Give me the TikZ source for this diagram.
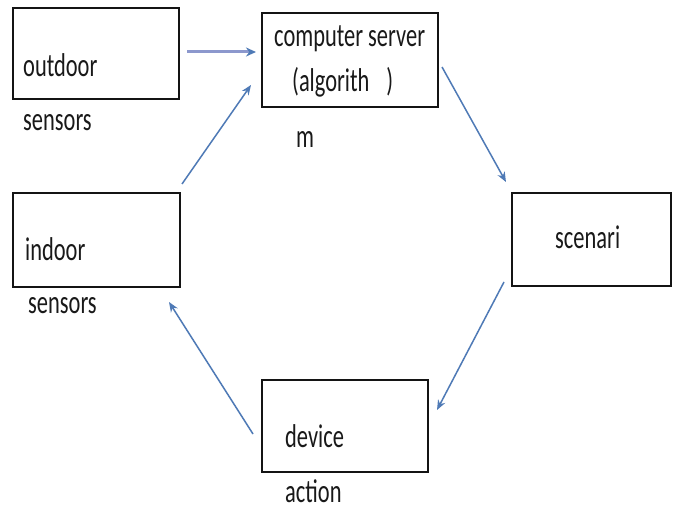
\documentclass[tikz,border=0pt]{standalone}
\usepackage{fontspec}
\setmainfont{Carlito}[FakeStretch=0.68]
\usetikzlibrary{arrows.meta}
\definecolor{arrblue}{RGB}{79,122,182}
\definecolor{arrlight}{RGB}{140,152,205}
\definecolor{txtc}{RGB}{25,25,25}
\definecolor{boxc}{RGB}{20,20,20}
\tikzset{
  boxnode/.style={draw=boxc, line width=1.8pt, rectangle, inner sep=0pt},
  lbl/.style={anchor=base west, inner sep=0pt, text=txtc, font=\fontsize{33}{38}\selectfont},
  conn/.style={draw=arrblue, line width=1.5pt, -{Stealth[length=10pt,width=8pt]}},
  connthick/.style={draw=arrlight, line width=3pt, -{Stealth[length=10pt,width=9pt,color=arrblue]}}
}
\begin{document}
\begin{tikzpicture}[x=1pt,y=-1pt]
\useasboundingbox[fill=white] (0,0) rectangle (673,511);
% boxes
\node[boxnode, minimum width=166pt, minimum height=91pt] (outdoor) at (96,53.5) {};
\node[boxnode, minimum width=176pt, minimum height=94pt] (server) at (350,60) {};
\node[boxnode, minimum width=159pt, minimum height=93pt] (scenari) at (591.5,239.5) {};
\node[boxnode, minimum width=167pt, minimum height=94pt] (indoor) at (96.5,240) {};
\node[boxnode, minimum width=166pt, minimum height=92pt] (device) at (345,426) {};
% labels
\node[lbl] (t1) at (23,77) {outdoor};
\node[lbl] (t2) at (23,131) {sensors};
\node[lbl] (t3) at (274,47) {computer server};
\node[lbl] (t4) at (292,92) {(algorith\hspace*{17pt})};
\node[lbl] (t5) at (296,148) {m};
\node[lbl] (t6) at (555,248) {scenari};
\node[lbl] (t7) at (25,260) {indoor};
\node[lbl] (t8) at (28,313) {sensors};
\node[lbl] (t9) at (285,447) {device};
\node[lbl] (t10) at (285,502) {action};
% connector ends
\coordinate (a1s) at (187,52);
\coordinate (a1e) at (256,52);
\coordinate (a2s) at (182,184);
\coordinate (a2e) at (251,85);
\coordinate (a3s) at (442,67);
\coordinate (a3e) at (506,182);
\coordinate (a4s) at (504,282);
\coordinate (a4e) at (437,410);
\coordinate (a5s) at (253,434);
\coordinate (a5e) at (169,302);
% connectors
\draw[connthick] (a1s) -- (a1e);
\draw[conn] (a2s) -- (a2e);
\draw[conn] (a3s) -- (a3e);
\draw[conn] (a4s) -- (a4e);
\draw[conn] (a5s) -- (a5e);
\end{tikzpicture}
\end{document}
